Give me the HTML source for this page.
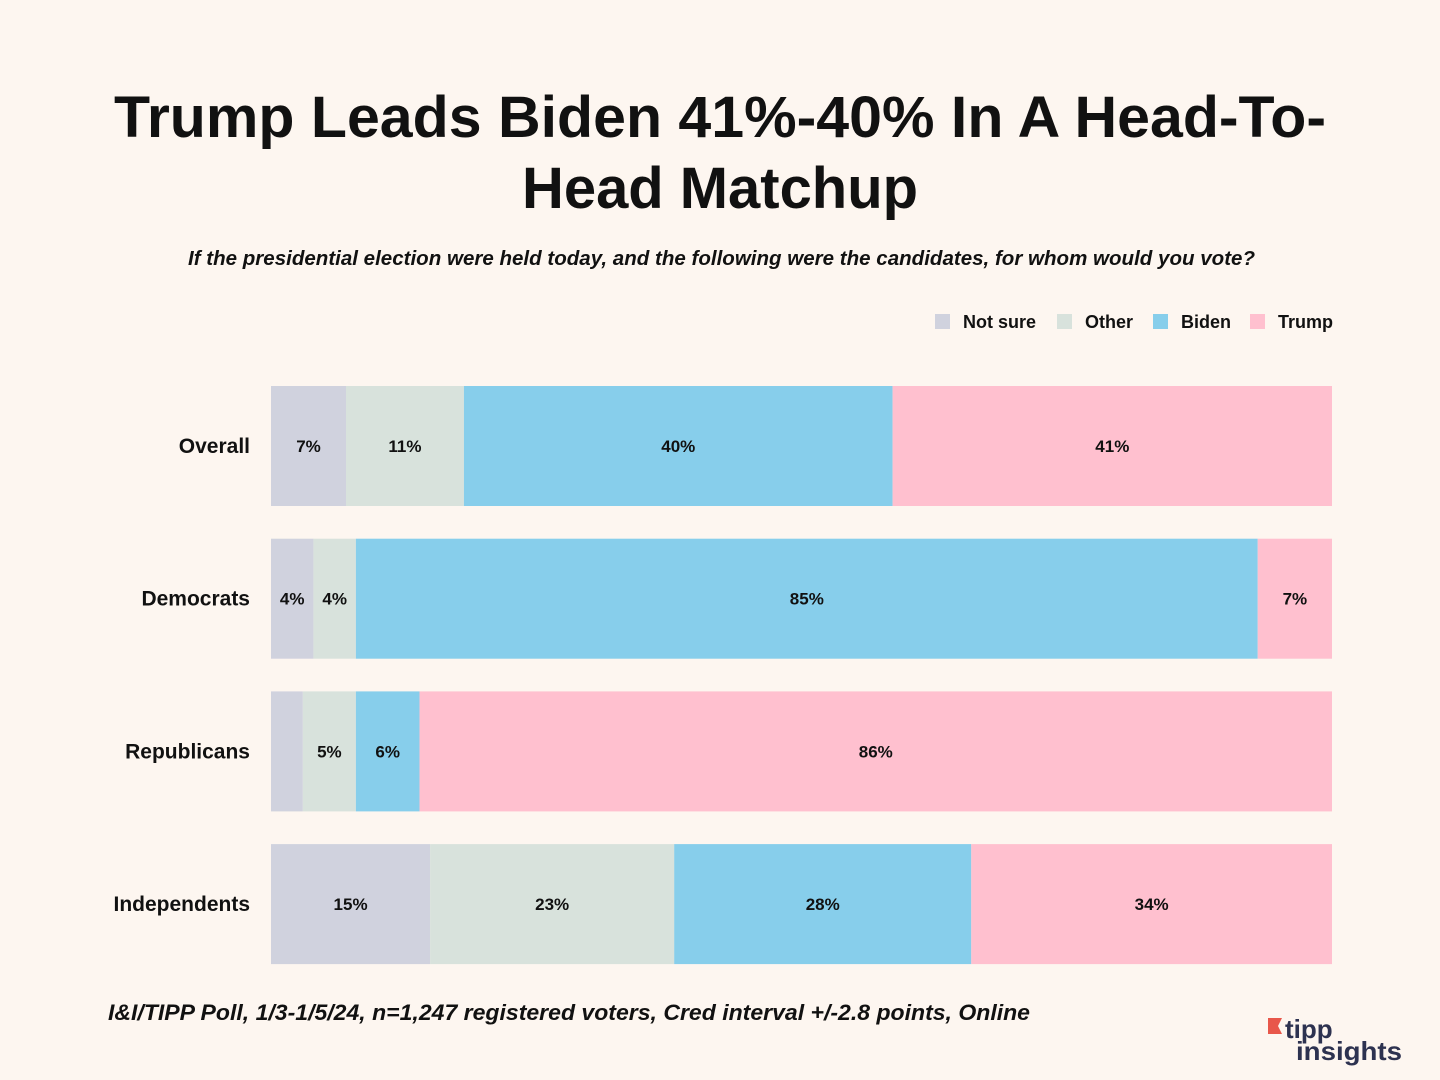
<!DOCTYPE html>
<html><head><meta charset="utf-8"><style>
html,body{margin:0;padding:0;background:#fdf6f0;}
svg{display:block;font-family:"Liberation Sans",sans-serif;}
</style></head><body>
<svg id="chart" width="1440" height="1080" viewBox="0 0 1440 1080">
<rect width="1440" height="1080" fill="#fdf6f0"/>
<text x="720" y="137" text-anchor="middle" font-size="58" font-weight="bold" fill="#111" textLength="1212" lengthAdjust="spacingAndGlyphs">Trump Leads Biden 41%-40% In A Head-To-</text>
<text x="720" y="208" text-anchor="middle" font-size="58" font-weight="bold" fill="#111" textLength="396" lengthAdjust="spacingAndGlyphs">Head Matchup</text>
<text x="188" y="265" font-size="20" font-style="italic" font-weight="bold" fill="#111" textLength="1067" lengthAdjust="spacingAndGlyphs">If the presidential election were held today, and the following were the candidates, for whom would you vote?</text>
<g id="legend"></g>
<g id="bars"></g>
<text x="108" y="1020" font-size="22" font-style="italic" font-weight="bold" fill="#111" textLength="922" lengthAdjust="spacingAndGlyphs">I&amp;I/TIPP Poll, 1/3-1/5/24, n=1,247 registered voters, Cred interval +/-2.8 points, Online</text>
<g>
<path d="M1268 1018 h14 l-4 8 l4 8 h-14 z" fill="#e8574a"/>
<text x="1285" y="1038" font-size="26" font-weight="bold" fill="#2d3250">tipp</text>
<text x="1296" y="1060" font-size="26" font-weight="bold" fill="#2d3250" textLength="106" lengthAdjust="spacingAndGlyphs">insights</text>
</g>
</svg>
<script>
const categories = ["Overall","Democrats","Republicans","Independents"];
const seriesNames = ["Not sure","Other","Biden","Trump"];
const notSure = [7,4,3,15];
const other = [11,4,5,23];
const biden = [40,85,6,28];
const trump = [41,7,86,34];
const labelsShown = [[true,true,true,true],[true,true,true,true],[false,true,true,true],[true,true,true,true]];
const colors = ["#d0d2de","#d8e2dc","#87ceeb","#ffc0cf"];
const series = [notSure, other, biden, trump];
const NS="http://www.w3.org/2000/svg";
const x0=271, x1=1332, top0=386, step=152.7, bh=120;
function xScale(v,total){return x0+(v/total)*(x1-x0);}
function yScale(i){return top0+i*step;}
const g=document.getElementById('bars');
categories.forEach((c,i)=>{
  const y=yScale(i);
  const t=document.createElementNS(NS,'text');
  t.setAttribute('x',250);t.setAttribute('y',y+bh/2+7);t.setAttribute('text-anchor','end');
  t.setAttribute('font-size','21');t.setAttribute('font-weight','bold');t.setAttribute('fill','#111');t.textContent=c;
  
  
  g.appendChild(t);
  let total=0; series.forEach(s=>total+=s[i]);
  let cum=0;
  series.forEach((s,k)=>{
    const xa=xScale(cum,total), xb=xScale(cum+s[i],total);
    const r=document.createElementNS(NS,'rect');
    r.setAttribute('x',xa);r.setAttribute('y',y);r.setAttribute('width',xb-xa);r.setAttribute('height',bh);
    r.setAttribute('fill',colors[k]);
    
    
    g.appendChild(r);
    if(labelsShown[i][k]){
      const l=document.createElementNS(NS,'text');
      l.setAttribute('x',(xa+xb)/2);l.setAttribute('y',y+bh/2+6);l.setAttribute('text-anchor','middle');
      l.setAttribute('font-size','17');l.setAttribute('font-weight','bold');l.setAttribute('fill','#111');
      l.textContent=s[i]+'%';
      
      
      g.appendChild(l);
    }
    cum+=s[i];
  });
});
const lg=document.getElementById('legend');
const lx=[935,1057,1153,1250];
seriesNames.forEach((n,k)=>{
  const r=document.createElementNS(NS,'rect');
  r.setAttribute('x',lx[k]);r.setAttribute('y',314);r.setAttribute('width',15);r.setAttribute('height',15);r.setAttribute('fill',colors[k]);
  
  
  lg.appendChild(r);
  const t=document.createElementNS(NS,'text');
  t.setAttribute('x',lx[k]+28);t.setAttribute('y',328);t.setAttribute('font-size','18');t.setAttribute('font-weight','bold');t.setAttribute('fill','#111');
  t.textContent=n;
  
  
  lg.appendChild(t);
});
</script>
</body></html>
